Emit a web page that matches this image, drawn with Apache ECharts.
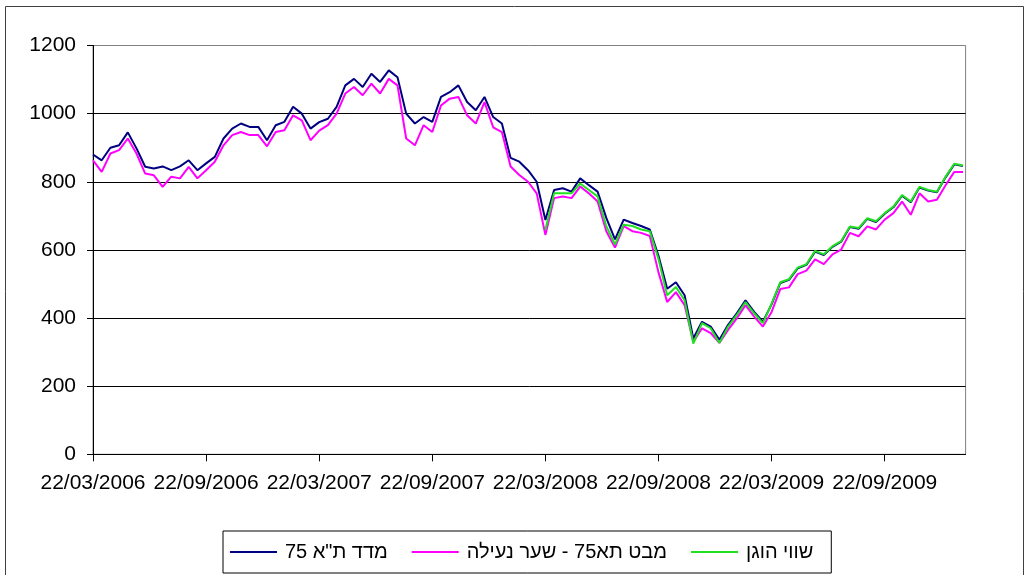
<!DOCTYPE html>
<html>
<head>
<meta charset="utf-8">
<script src="https://cdn.jsdelivr.net/npm/echarts@6/dist/echarts.min.js"></script>
<style>
  html, body { margin: 0; padding: 0; background: #fff; }
  #chart { width: 1030px; height: 575px; }
</style>
</head>
<body>
<div id="chart"></div>
<script>
// tick labels every 13 points (half a year)
var tickLabels = ['22/03/2006', '22/09/2006', '22/03/2007', '22/09/2007',
    '22/03/2008', '22/09/2008', '22/03/2009', '22/09/2009'];
var seriesNames = ['מדד ת"א 75', 'מבט תא75 - שער נעילה', 'שווי הוגן'];

// מדד ת"א 75
var indexValues = [880, 863, 900, 907, 945, 898, 844, 839, 845, 834,
    845, 863, 834, 854, 873, 927, 956, 971, 961, 961,
    922, 966, 976, 1020, 1000, 956, 975, 985, 1020, 1083,
    1102, 1078, 1117, 1093, 1127, 1107, 1000, 971, 990, 976,
    1049, 1063, 1083, 1034, 1010, 1049, 990, 971, 870, 859,
    834, 800, 688, 776, 781, 771, 810, 790, 771, 694,
    631, 689, 679, 670, 660, 583, 486, 505, 467, 340,
    389, 375, 336, 380, 414, 452, 418, 389, 440, 503,
    512, 546, 556, 595, 585, 609, 624, 667, 662, 691,
    682, 706, 725, 759, 740, 783, 774, 769, 813, 851, 846];

// מבט תא75 - שער נעילה
var closeValues = [863, 829, 883, 893, 927, 883, 824, 819, 785, 815,
    810, 844, 810, 834, 859, 907, 937, 946, 937, 937,
    904, 946, 951, 995, 980, 922, 950, 966, 1000, 1059,
    1078, 1054, 1088, 1059, 1102, 1083, 927, 907, 966, 946,
    1024, 1044, 1049, 995, 971, 1034, 960, 946, 845, 820,
    800, 766, 644, 752, 757, 752, 786, 766, 742, 655,
    607, 670, 655, 650, 641, 534, 447, 476, 438, 330,
    370, 356, 327, 365, 399, 438, 404, 375, 418, 485,
    490, 529, 539, 572, 558, 587, 601, 650, 640, 669,
    660, 689, 708, 742, 703, 766, 742, 747, 790, 829, 829];

// שווי הוגן, starts at point 52 (22/03/2008)
var fairStart = 52;
var fairValues = [659, 766, 766, 766, 795, 776, 757, 670,
    616, 674, 670, 660, 655, 573, 467, 491, 452, 325,
    385, 370, 327, 375, 409, 447, 414, 385, 442, 505,
    514, 548, 558, 597, 587, 611, 626, 669, 664, 693,
    684, 708, 727, 761, 742, 785, 776, 771, 815, 853, 848];

var font = 'Liberation Sans, Arial, sans-serif';
var tickPos = tickLabels.map(function (t, i) { return i * 13; });

var myChart = echarts.init(document.getElementById('chart'));
var option = {
    animation: false,
    textStyle: { fontFamily: font },
    graphic: [{
        type: 'rect',
        shape: { x: 5.5, y: 6.5, width: 1018, height: 600 },
        style: { fill: 'none', stroke: '#404040', lineWidth: 1 },
        silent: true
    }],
    grid: {
        left: 93, top: 45.5, width: 872.6, height: 408.8,
        show: true, borderColor: '#808080', borderWidth: 1,
        containLabel: false
    },
    legend: {
        left: 223, top: 531,
        padding: [11, 18, 11, 7],
        borderColor: '#000', borderWidth: 1, borderRadius: 0,
        itemWidth: 47, itemHeight: 2, itemGap: 24,
        icon: 'rect',
        textStyle: { fontFamily: font, fontSize: 20, color: '#000', padding: [0, 0, 0, 3] },
        data: seriesNames
    },
    xAxis: {
        type: 'value',
        min: 0, max: 100.3, interval: 13,
        axisLine: { lineStyle: { color: '#000', width: 1 } },
        axisTick: { show: true, length: 7, customValues: tickPos, lineStyle: { color: '#000' } },
        axisLabel: {
            customValues: tickPos,
            margin: 18, fontSize: 21, color: '#000', fontFamily: font,
            formatter: function (v) { return tickLabels[Math.round(v / 13)] || ''; }
        },
        splitLine: { show: false }
    },
    yAxis: {
        type: 'value',
        min: 0, max: 1200, interval: 200,
        axisLine: { show: true, lineStyle: { color: '#000', width: 1 } },
        axisTick: { show: true, length: 6, lineStyle: { color: '#000' } },
        axisLabel: {
            margin: 17, fontSize: 21, color: '#000', fontFamily: font,
            formatter: function (v) { return String(v); }
        },
        splitLine: { show: true, showMaxLine: false, lineStyle: { color: '#000', width: 1 } }
    },
    series: [
        {
            name: seriesNames[0], type: 'line', symbol: 'none',
            lineStyle: { color: '#000080', width: 2 }, itemStyle: { color: '#000080' },
            data: indexValues.map(function (v, i) { return [i, v]; })
        },
        {
            name: seriesNames[1], type: 'line', symbol: 'none',
            lineStyle: { color: '#ff00ff', width: 2 }, itemStyle: { color: '#ff00ff' },
            data: closeValues.map(function (v, i) { return [i, v]; })
        },
        {
            name: seriesNames[2], type: 'line', symbol: 'none',
            lineStyle: { color: '#20e020', width: 2 }, itemStyle: { color: '#20e020' },
            data: fairValues.map(function (v, i) { return [i + fairStart, v]; })
        }
    ]
};
myChart.setOption(option, true);
</script>
</body>
</html>
